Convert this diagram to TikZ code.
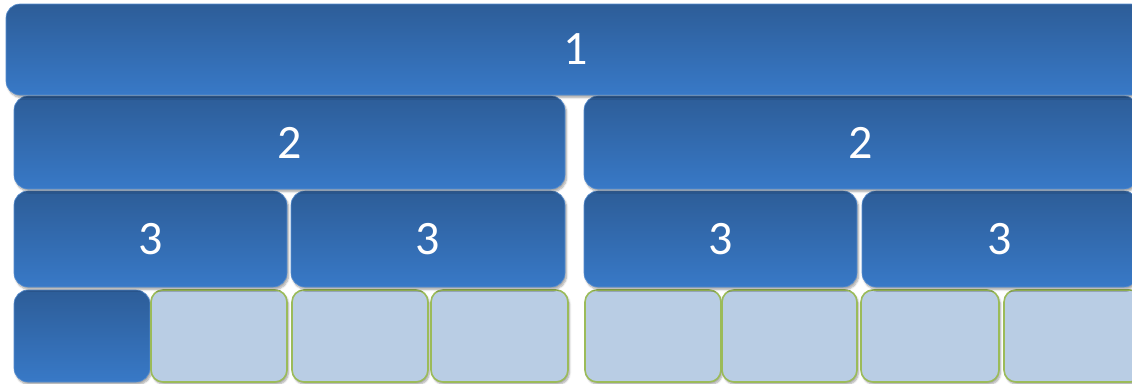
\documentclass[tikz,border=0pt]{standalone}
\usepackage{fontspec}
\setmainfont{Carlito}
\usetikzlibrary{shadows.blur}
\definecolor{bluetop}{RGB}{45,93,152}
\definecolor{bluebot}{RGB}{56,121,199}
\definecolor{lightfill}{RGB}{185,205,228}
\definecolor{greenline}{RGB}{155,187,89}
\tikzset{
  bluebox/.style={rounded corners=14pt, top color=bluetop, bottom color=bluebot,
    draw=bluebot!85!white, line width=0.6pt, text=white,
    font=\fontsize{48}{52}\selectfont, inner sep=0pt,
    blur shadow={shadow xshift=1.5pt, shadow yshift=-2.5pt, shadow blur steps=6, shadow opacity=35}},
  lightbox/.style={rounded corners=12pt, fill=lightfill, draw=greenline, line width=1.6pt,
    inner sep=0pt,
    blur shadow={shadow xshift=1.5pt, shadow yshift=-2.5pt, shadow blur steps=6, shadow opacity=35}},
}
\begin{document}
\begin{tikzpicture}[x=1pt,y=-1pt]
\useasboundingbox (0,0) rectangle (1132,383);
% row 4
\node[bluebox, minimum width=136pt, minimum height=92pt] (r4a) at (82,336) {};
\node[lightbox, minimum width=136pt, minimum height=92pt] (r4b) at (219,336) {};
\node[lightbox, minimum width=136pt, minimum height=92pt] (r4c) at (360,336) {};
\node[lightbox, minimum width=137pt, minimum height=92pt] (r4d) at (499.5,336) {};
\node[lightbox, minimum width=136pt, minimum height=92pt] (r4e) at (653,336) {};
\node[lightbox, minimum width=135pt, minimum height=92pt] (r4f) at (789.5,336) {};
\node[lightbox, minimum width=138pt, minimum height=92pt] (r4g) at (930,336) {};
\node[lightbox, minimum width=138pt, minimum height=92pt] (r4h) at (1073,336) {};
% row 3
\node[bluebox, minimum width=273pt, minimum height=96pt] (r3a) at (150.5,239) {3};
\node[bluebox, minimum width=274pt, minimum height=96pt] (r3b) at (428,239) {3};
\node[bluebox, minimum width=273pt, minimum height=96pt] (r3c) at (720.5,239) {3};
\node[bluebox, minimum width=276pt, minimum height=96pt] (r3d) at (1000,239) {3};
% row 2
\node[bluebox, minimum width=551pt, minimum height=93pt] (r2a) at (289.5,142.5) {2};
\node[bluebox, minimum width=554pt, minimum height=93pt] (r2b) at (861,142.5) {2};
% row 1
\node[bluebox, minimum width=1139pt, minimum height=91pt] (r1) at (575.5,49.5) {1};
\end{tikzpicture}
\end{document}
